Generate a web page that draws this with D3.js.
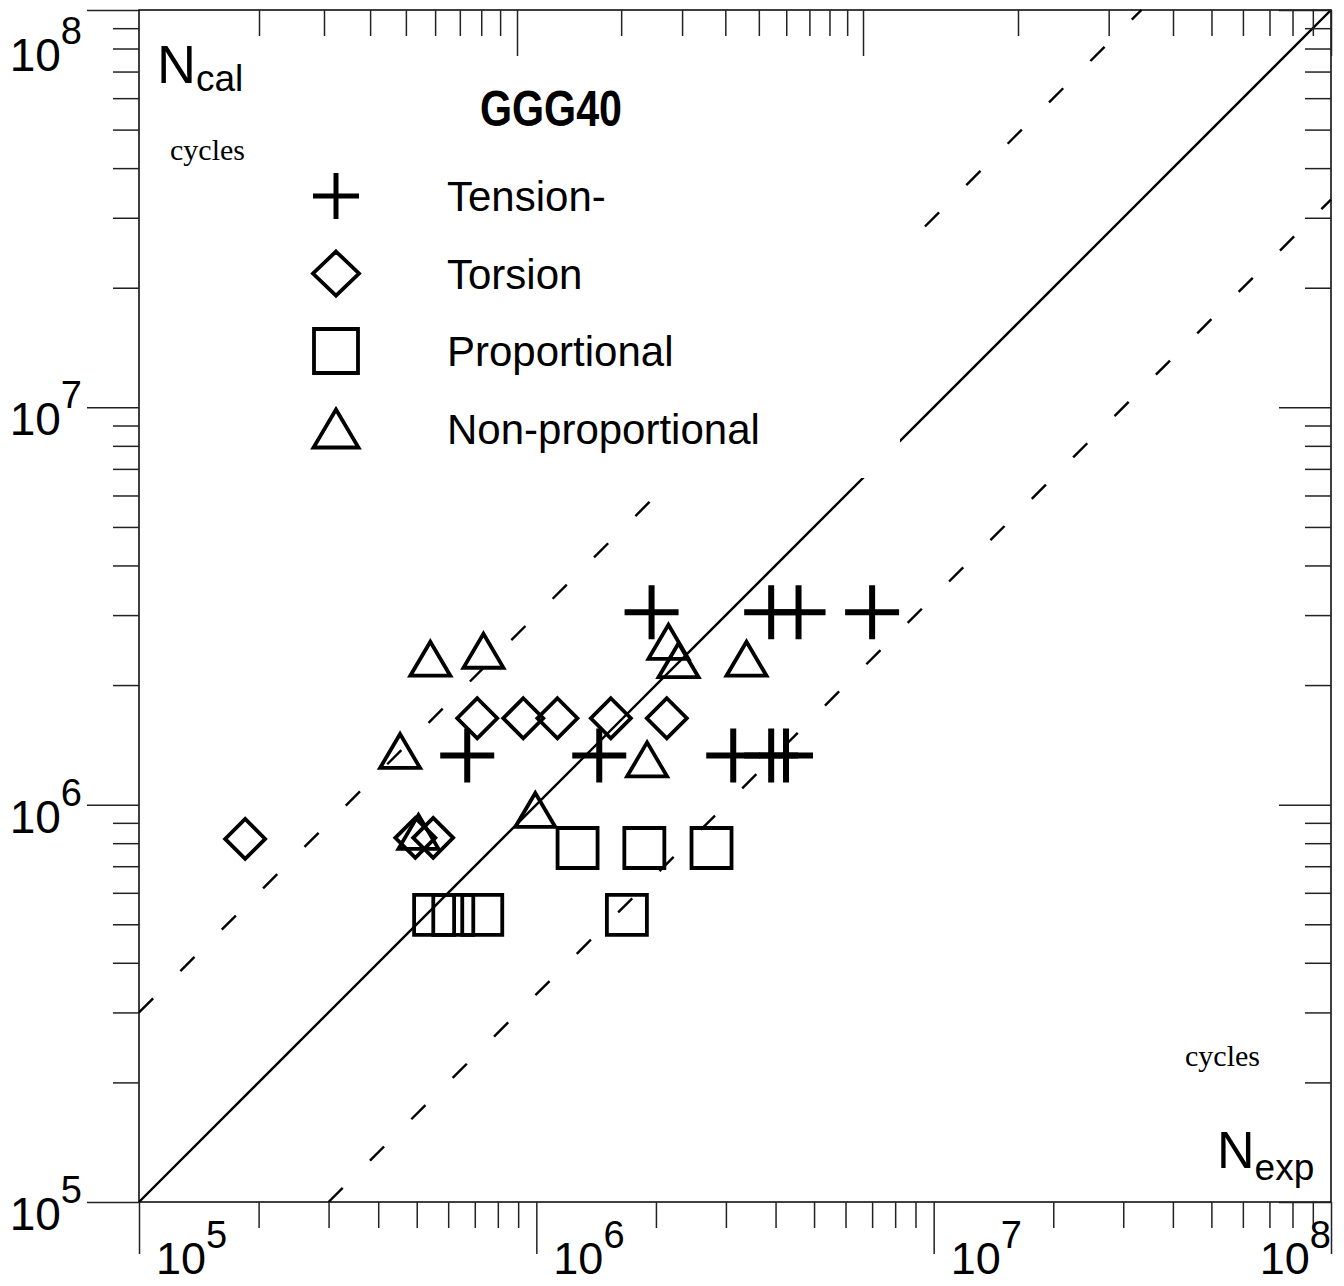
<!DOCTYPE html>
<html>
<head>
<meta charset="utf-8">
<script src="https://cdn.jsdelivr.net/npm/d3@7"></script>
<style>
  body { margin: 0; background: #fff; }
  text { font-family: 'Liberation Sans', Arial, sans-serif; }
  .serif { font-family: 'Liberation Serif', 'Times New Roman', serif; }
</style>
</head>
<body>
<div id="chart"></div>
<script>
// values (cycles)
const tensionX = [6.7e5, 1.44e6, 1.95e6, 3.13e6, 3.9e6, 4.25e6, 3.9e6, 4.57e6, 7.0e6]
const tensionY = [1.33e6, 1.33e6, 3.05e6, 1.33e6, 1.33e6, 1.33e6, 3.05e6, 3.05e6, 3.05e6]

const torsionX = [1.85e5, 4.96e5, 5.5e5, 7.1e5, 9.27e5, 1.13e6, 1.54e6, 2.13e6]
const torsionY = [8.2e5, 8.25e5, 8.25e5, 1.65e6, 1.65e6, 1.65e6, 1.65e6, 1.65e6]

const propX = [5.53e5, 6.18e5, 7.31e5, 1.27e6, 1.69e6, 1.87e6, 2.76e6]
const propY = [5.28e5, 5.28e5, 5.28e5, 7.78e5, 5.28e5, 7.78e5, 7.78e5]

const nonPropX = [4.54e5, 5.05e5, 5.41e5, 7.36e5, 9.94e5, 1.9e6, 2.15e6, 2.28e6, 3.38e6]
const nonPropY = [1.365e6, 8.54e5, 2.33e6, 2.44e6, 9.7e5, 1.3e6, 2.57e6, 2.31e6, 2.33e6]

const legendLabels = ['Tension-', 'Torsion', 'Proportional', 'Non-proportional']
const majorTicks = [1e5, 1e6, 1e7, 1e8]
const exponents = ['5', '6', '7', '8']
const minorTicks = []
;[1e5, 1e6, 1e7].forEach(d => {
  for (let k = 2; k <= 9; k++) minorTicks.push(d * k)
})
// upper and lower scatter band factors
const bandFactor = 3

const margin = { top: 10, right: 13, bottom: 84, left: 139 }
const width = 1344 - margin.left - margin.right
const height = 1286 - margin.top - margin.bottom

const svgRoot = d3
  .select('#chart')
  .append('svg')
  .attr('width', width + margin.left + margin.right)
  .attr('height', height + margin.top + margin.bottom)

const svg = svgRoot
  .append('g')
  .attr('transform', 'translate(' + margin.left + ',' + margin.top + ')')

const xPositionScale = d3.scaleLog().domain([1e5, 1e8]).range([0, width])
const yPositionScale = d3.scaleLog().domain([1e5, 1e8]).range([height, 0])
// the top scale of the original is drawn a little off
const xTopScale = d3
  .scaleLog()
  .domain([2e5, 1e6, 1e7, 4e7, 1e8])
  .range([120, 378, 724, 1034, width])

// reference lines
const line = d3
  .line()
  .x(d => xPositionScale(d[0]))
  .y(d => yPositionScale(d[1]))

svg
  .append('path')
  .datum([[1e5, 1e5], [1e8, 1e8]])
  .attr('d', line)
  .attr('fill', 'none')
  .attr('stroke', '#000')
  .attr('stroke-width', 2.4)

svg
  .append('path')
  .datum([[1e5, 1e5 * bandFactor], [1e8 / bandFactor, 1e8]])
  .attr('d', line)
  .attr('fill', 'none')
  .attr('stroke', '#000')
  .attr('stroke-width', 2.4)
  .attr('stroke-dasharray', '20,38.5')

svg
  .append('path')
  .datum([[1e5 * bandFactor, 1e5], [1e8, 1e8 / bandFactor]])
  .attr('d', line)
  .attr('fill', 'none')
  .attr('stroke', '#000')
  .attr('stroke-width', 2.4)
  .attr('stroke-dasharray', '20,38.5')

// white legend box hides the lines behind it
svg
  .append('rect')
  .attr('x', 150)
  .attr('y', 60)
  .attr('width', 611)
  .attr('height', 408)
  .attr('fill', '#fff')

// frame
svg
  .append('rect')
  .attr('width', width)
  .attr('height', height)
  .attr('fill', 'none')
  .attr('stroke', '#000')
  .attr('stroke-width', 1.5)

function drawAxis(axis, tx, ty) {
  const g = svg
    .append('g')
    .attr('transform', 'translate(' + tx + ',' + ty + ')')
    .call(axis.tickFormat('').tickSizeOuter(0))
  g.select('.domain').remove()
  g.selectAll('line').attr('stroke', '#222').attr('stroke-width', 1.5)
}

// bottom and left: outward
drawAxis(d3.axisBottom(xPositionScale).tickValues(minorTicks).tickSize(26), 0, height)
drawAxis(d3.axisBottom(xPositionScale).tickValues(majorTicks).tickSize(52), 0, height)
drawAxis(d3.axisLeft(yPositionScale).tickValues(minorTicks).tickSize(26), 0, 0)
drawAxis(d3.axisLeft(yPositionScale).tickValues(majorTicks).tickSize(52), 0, 0)
// top and right: inward
drawAxis(d3.axisBottom(xTopScale).tickValues(minorTicks.filter(v => v >= 2e5)).tickSize(26), 0, 0)
drawAxis(d3.axisBottom(xTopScale).tickValues([1e6, 1e7, 1e8]).tickSize(46), 0, 0)
drawAxis(d3.axisLeft(yPositionScale).tickValues(minorTicks).tickSize(26), width, 0)
drawAxis(d3.axisLeft(yPositionScale).tickValues(majorTicks).tickSize(52), width, 0)

// tick labels
const yLabels = svg
  .selectAll('.y-label')
  .data(majorTicks)
  .enter()
  .append('text')
  .attr('class', 'y-label')
  .attr('text-anchor', 'end')
  .attr('x', -57)
  .attr('y', d => Math.max(yPositionScale(d) + 28, 61))
  .attr('font-size', 46)
  .text('10')
yLabels
  .append('tspan')
  .attr('dy', -27)
  .attr('font-size', 38)
  .text((d, i) => exponents[i])

const xLabels = svg
  .selectAll('.x-label')
  .data(majorTicks)
  .enter()
  .append('text')
  .attr('class', 'x-label')
  .attr('text-anchor', (d, i) => (i === majorTicks.length - 1 ? 'end' : 'start'))
  .attr('x', (d, i) => (i === majorTicks.length - 1 ? xPositionScale(d) : xPositionScale(d) + 17))
  .attr('y', height + 72)
  .attr('font-size', 45)
  .text('10')
xLabels
  .append('tspan')
  .attr('dy', -26)
  .attr('font-size', 38)
  .text((d, i) => exponents[i])

// axis titles
const nCal = svg
  .append('text')
  .attr('x', 18)
  .attr('y', 73)
  .attr('font-size', 54)
  .text('N')
nCal.append('tspan').attr('dy', 8).attr('font-size', 37).text('cal')

svg
  .append('text')
  .attr('class', 'serif')
  .attr('x', 31)
  .attr('y', 150)
  .attr('font-size', 30)
  .text('cycles')

const nExp = svg
  .append('text')
  .attr('x', 1078)
  .attr('y', 1158)
  .attr('font-size', 52)
  .text('N')
nExp.append('tspan').attr('dy', 12).attr('font-size', 37).text('exp')

svg
  .append('text')
  .attr('class', 'serif')
  .attr('x', 1046)
  .attr('y', 1056)
  .attr('font-size', 30)
  .text('cycles')

svg
  .append('text')
  .attr('x', 341)
  .attr('y', 116)
  .attr('font-size', 50)
  .attr('font-weight', 'bold')
  .attr('textLength', 142)
  .attr('lengthAdjust', 'spacingAndGlyphs')
  .text('GGG40')

// marker shapes
function crossPath(s) {
  return 'M' + -s + ',0H' + s + 'M0,' + -s + 'V' + s
}
function diamondPath(w, h) {
  return 'M0,' + -h + 'L' + w + ',0L0,' + h + 'L' + -w + ',0Z'
}
function squarePath(s) {
  return 'M' + -s + ',' + -s + 'H' + s + 'V' + s + 'H' + -s + 'Z'
}
function trianglePath(w, h) {
  return 'M0,' + -h + 'L' + w + ',' + h + 'L' + -w + ',' + h + 'Z'
}

function drawPoints(xs, ys, path, strokeWidth) {
  svg
    .append('g')
    .selectAll('path')
    .data(xs.map((x, i) => [x, ys[i]]))
    .enter()
    .append('path')
    .attr('transform', d => 'translate(' + xPositionScale(d[0]) + ',' + yPositionScale(d[1]) + ')')
    .attr('d', path)
    .attr('fill', 'none')
    .attr('stroke', '#000')
    .attr('stroke-width', strokeWidth)
}

drawPoints(propX, propY, squarePath(20), 3.8)
drawPoints(torsionX, torsionY, diamondPath(20, 20), 3.8)
drawPoints(nonPropX, nonPropY, trianglePath(20, 17), 3.8)
drawPoints(tensionX, tensionY, crossPath(27), 6)

// legend
const legendShapes = [crossPath(23), diamondPath(23, 22), squarePath(22), trianglePath(22.5, 19)]
const legendWidths = [5, 3.8, 3.8, 3.8]
const legend = svg
  .selectAll('.legend')
  .data(legendLabels)
  .enter()
  .append('g')
  .attr('class', 'legend')
  .attr('transform', (d, i) => 'translate(197,' + (186 + i * 77.5) + ')')

legend
  .append('path')
  .attr('d', (d, i) => legendShapes[i])
  .attr('fill', 'none')
  .attr('stroke', '#000')
  .attr('stroke-width', (d, i) => legendWidths[i])

legend
  .append('text')
  .attr('x', 111)
  .attr('y', 15)
  .attr('font-size', 42)
  .text(d => d)
</script>
</body>
</html>
